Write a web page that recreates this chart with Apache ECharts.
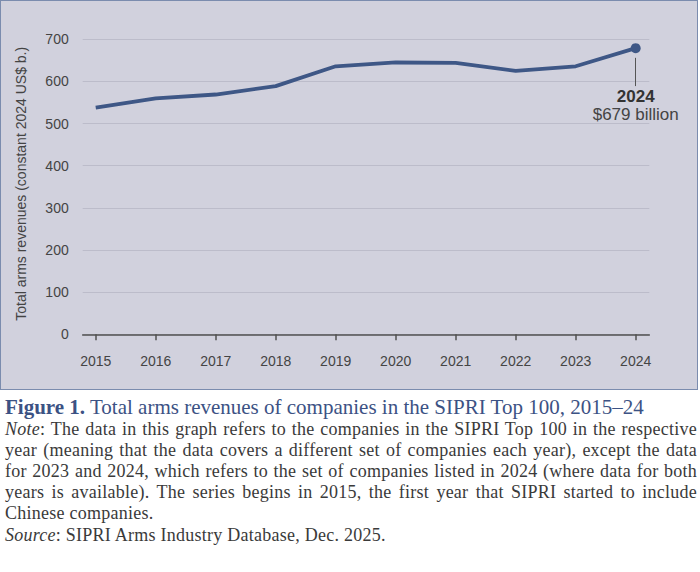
<!DOCTYPE html>
<html>
<head>
<meta charset="utf-8">
<script src="https://cdn.jsdelivr.net/npm/echarts@6/dist/echarts.min.js"></script>
<style>
  html, body { margin:0; padding:0; background:#ffffff; }
  #wrap { position:relative; width:700px; height:572px; overflow:hidden; }
  #panel { position:absolute; left:0; top:0; width:696px; height:388px; background:#d1d1dd; border:1.5px solid #7b8cae; }
  #chart { position:absolute; left:0; top:0; width:700px; height:392px; }
  .cap { position:absolute; left:5px; width:692px; font-family:"Liberation Serif", "Times New Roman", serif; white-space:nowrap; }
  .title { font-size:21px; color:#3c5284; line-height:21px; }
  .line { font-size:18px; letter-spacing:0.25px; color:#3a3a3a; line-height:18px; text-align:justify; text-align-last:justify; white-space:normal; }
  .last { text-align-last:left; }
</style>
</head>
<body>
<div id="wrap">
  <div id="panel"></div>
  <div id="chart"></div>
  <div class="cap title" style="top:397.4px"><b>Figure 1.</b> Total arms revenues of companies in the SIPRI Top 100, 2015–24</div>
  <div class="cap line" style="top:419.5px"><i>Note</i>: The data in this graph refers to the companies in the SIPRI Top 100 in the respective</div>
  <div class="cap line" style="top:440.6px">year (meaning that the data covers a different set of companies each year), except the data</div>
  <div class="cap line" style="top:461.7px">for 2023 and 2024, which refers to the set of companies listed in 2024 (where data for both</div>
  <div class="cap line" style="top:482.8px">years is available). The series begins in 2015, the first year that SIPRI started to include</div>
  <div class="cap line last" style="top:503.9px">Chinese companies.</div>
  <div class="cap line last" style="top:525.8px"><i>Source</i>: SIPRI Arms Industry Database, Dec. 2025.</div>
</div>
<script>
const years = [2015, 2016, 2017, 2018, 2019, 2020, 2021, 2022, 2023, 2024];
const revenues = [538, 560, 569, 589, 636, 645, 644, 625, 636, 679];
const yTicks = [0, 100, 200, 300, 400, 500, 600, 700];
const yAxisName = 'Total arms revenues (constant 2024 US$ b.)';

const lastIdx = years.length - 1;
const seriesData = years.map((y, i) => {
  const item = { value: [y, revenues[i]] };
  if (i === lastIdx) { item.symbol = 'circle'; item.symbolSize = 10; }
  return item;
});

const chart = echarts.init(document.getElementById('chart'), null, { renderer: 'svg' });
chart.setOption({
  backgroundColor: 'transparent',
  animation: false,
  textStyle: { fontFamily: 'Liberation Sans, Arial, sans-serif' },
  grid: { left: 82.7, right: 50.7, top: 39.3, bottom: 57.7, containLabel: false },
  xAxis: {
    type: 'value',
    min: 2014.783,
    max: 2024.227,
    axisLine: { show: true, lineStyle: { color: '#505050', width: 1.5 } },
    axisTick: { show: true, customValues: years, length: 6, lineStyle: { color: '#505050', width: 1.5 } },
    axisLabel: { customValues: years, margin: 20, fontSize: 14, color: '#444', formatter: v => String(Math.round(v)) },
    splitLine: { show: false }
  },
  yAxis: {
    type: 'value',
    min: yTicks[0],
    max: yTicks[yTicks.length - 1],
    interval: 100,
    name: yAxisName,
    nameLocation: 'middle',
    nameRotate: 90,
    nameGap: 55,
    nameTextStyle: { fontSize: 14, color: '#444', padding: [0, 0, 0, 6] },
    axisLine: { show: false },
    axisTick: { show: false },
    axisLabel: { margin: 14, fontSize: 14, color: '#444' },
    splitLine: { show: true, lineStyle: { color: '#bcbcca', width: 1 } }
  },
  series: [{
    type: 'line',
    data: seriesData,
    symbol: 'none',
    showSymbol: true,
    lineStyle: { color: '#3e5786', width: 3.8 },
    itemStyle: { color: '#3e5786' },
    markLine: {
      silent: true,
      symbol: ['none', 'none'],
      lineStyle: { color: '#555', width: 1, type: 'solid' },
      label: {
        show: true,
        position: 'end',
        distance: 2,
        formatter: () => '{b|' + years[lastIdx] + '}\n{n|$' + revenues[lastIdx] + ' billion}',
        rich: {
          b: { fontSize: 17, fontWeight: 'bold', color: '#333', lineHeight: 17, align: 'center' },
          n: { fontSize: 17, color: '#444', lineHeight: 17, align: 'center', padding: [1, 0, 0, 0] }
        }
      },
      data: [[{ coord: [years[lastIdx], 656] }, { coord: [years[lastIdx], 589] }]]
    }
  }]
});
</script>
</body>
</html>
